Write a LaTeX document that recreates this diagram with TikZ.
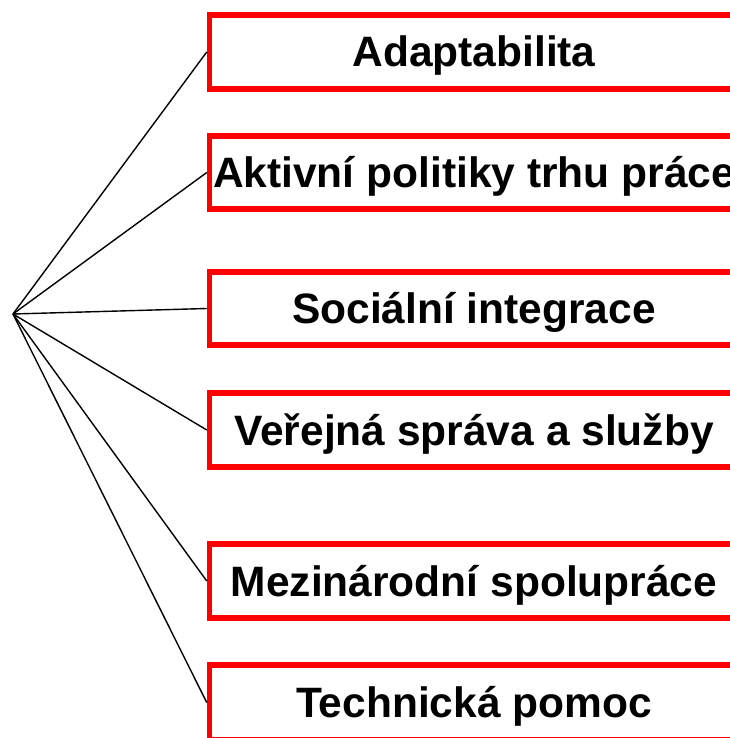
\documentclass[tikz,border=0pt]{standalone}
\usepackage{fontspec}
\setmainfont{Liberation Sans}
\begin{document}
\begin{tikzpicture}[x=1pt,y=-1pt,
  itembox/.style={draw=red, line width=5.5pt, rectangle, minimum width=529pt, inner sep=0pt,
    text height=30pt, text depth=0pt,
    font=\fontsize{42.5}{48}\selectfont\bfseries, text=black},
  spoke/.style={draw=black, line width=1.4pt}]
\useasboundingbox (0,0) rectangle (729,738);
\coordinate (hub) at (13,314);
\node[itembox, minimum height=74pt] (b1) at (474,52) {Adaptabilita};
\node[itembox, minimum height=73pt] (b2) at (474,172.5) {Aktivní politiky trhu práce};
\node[itembox, minimum height=73pt] (b3) at (474,308.5) {Sociální integrace};
\node[itembox, minimum height=74pt] (b4) at (474,430) {Veřejná správa a služby};
\node[itembox, minimum height=74pt] (b5) at (474,581) {Mezinárodní spolupráce};
\node[itembox, minimum height=75pt] (b6) at (474,702.5) {Technická pomoc};
\foreach \b in {b1,b2,b3,b4,b5,b6} \draw[spoke] (hub) -- (\b.west);
\end{tikzpicture}
\end{document}
